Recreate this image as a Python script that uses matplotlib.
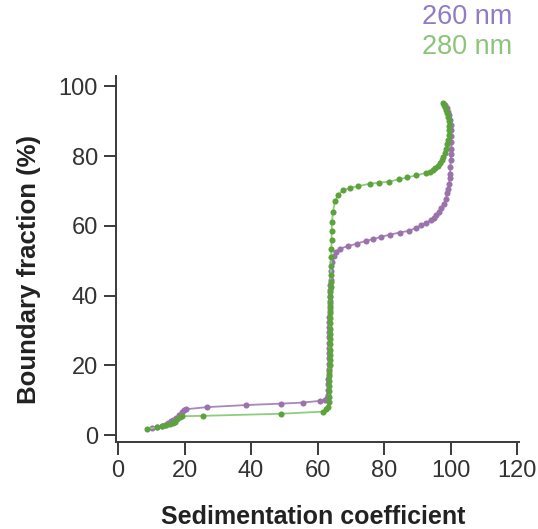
import matplotlib.pyplot as plt

plt.rcParams['font.family'] = ['Liberation Sans', 'DejaVu Sans']

# 260 nm trace (purple)
s_260 = [10.1, 11.6, 13.1, 14.2, 15.1, 16.0, 16.6, 17.5, 18.4, 19.1, 19.8, 20.4,
         26.8, 38.6, 49.0, 55.5, 60.7, 62.2, 62.8,
         63.0, 63.1, 63.2, 63.2, 63.3, 63.3, 63.3, 63.4, 63.4, 63.4, 63.4, 63.5,
         63.5, 63.5, 63.5, 63.5, 63.6, 63.6, 63.6, 63.6, 63.7, 63.8, 64.0,
         64.1, 64.3, 64.8, 65.6, 66.7, 69.2, 71.7, 74.5, 76.7, 78.9, 81.7, 84.7,
         87.5, 89.5, 91.2, 92.7, 94.2, 95.0, 95.7, 96.5, 97.2, 97.9, 98.5,
         99.0, 99.3, 99.5, 99.7, 99.8, 99.9, 100.0, 100.1, 100.2, 100.2,
         100.2, 100.2, 100.1, 99.9, 99.6, 99.2, 98.8, 98.3]
f_260 = [2.0, 2.3, 2.6, 3.0, 3.5, 3.9, 4.3, 5.0, 5.7, 6.7, 7.1, 7.4,
         8.0, 8.6, 9.0, 9.3, 9.8, 10.1, 10.6,
         11.5, 13.0, 14.5, 16.0, 17.5, 19.0, 20.5, 22.0, 23.5, 25.0, 26.5, 28.0,
         29.5, 31.0, 32.5, 34.0, 35.5, 37.0, 38.5, 40.0, 41.5, 43.0, 44.5,
         47.0, 49.5, 51.3, 52.5, 53.5, 54.2, 54.9, 55.7, 56.2, 56.8, 57.5, 58.1,
         58.6, 59.4, 60.2, 60.9, 61.8, 62.4, 63.0, 64.0, 65.0, 66.3, 67.8,
         69.3, 70.7, 72.1, 73.6, 75.0, 76.8, 78.8, 80.5, 82.2, 84.0,
         85.7, 87.4, 89.0, 90.4, 91.7, 92.8, 93.8, 94.7]

# 280 nm trace (green)
s_280 = [8.6, 11.6, 13.1, 14.4, 15.6, 16.4, 17.1, 17.8, 18.6, 19.3,
         25.6, 48.9, 61.5, 62.6, 63.1,
         63.3, 63.4, 63.4, 63.5, 63.5, 63.5, 63.5, 63.6, 63.6, 63.6, 63.6, 63.6,
         63.7, 63.7, 63.7, 63.7, 63.7, 63.8, 63.8, 63.8, 63.8, 63.8, 63.9, 63.9,
         64.0, 64.0, 64.1, 64.1, 64.2, 64.2, 64.3, 64.6, 65.2, 66.2, 67.7, 69.7,
         72.2, 75.7, 78.5, 81.5, 84.5, 86.9, 89.7, 92.5, 93.7, 94.7, 95.4, 96.1,
         96.7, 97.3, 97.8, 98.3, 98.7, 99.0, 99.3, 99.5, 99.6, 99.6, 99.5,
         99.3, 99.0, 98.7, 98.3, 97.9, 97.7]
f_280 = [1.7, 2.2, 2.5, 2.8, 3.2, 3.5, 3.8, 4.6, 5.2, 5.4,
         5.5, 6.1, 6.7, 7.4, 8.1,
         9.5, 11.0, 12.5, 14.0, 15.5, 17.0, 18.5, 20.0, 21.5, 23.0, 24.5, 26.0,
         27.5, 29.0, 30.5, 32.0, 33.5, 35.0, 36.5, 38.0, 39.5, 41.0, 42.5, 44.0,
         46.0, 48.5, 51.0, 53.5, 56.0, 58.5, 61.0, 64.0, 67.0, 69.0, 70.2, 70.9,
         71.4, 72.1, 72.4, 72.7, 73.4, 73.9, 74.5, 75.2, 75.6, 76.1, 76.6, 77.2,
         78.0, 78.9, 79.9, 81.0, 82.2, 83.4, 84.6, 86.0, 87.4, 88.8, 90.1,
         91.3, 92.4, 93.3, 94.1, 94.7, 95.2]

x_ticks = [0, 20, 40, 60, 80, 100, 120]
y_ticks = [0, 20, 40, 60, 80, 100]

purple = '#9a72ac'
purple_line = '#a887bb'
green = '#5ca33e'
green_line = '#8ccf7a'

fig = plt.figure(figsize=(5.38, 5.29), dpi=100)
ax = fig.add_axes([0.2156, 0.1645, 0.749, 0.6918])

ax.plot(s_260, f_260, '-', color=purple_line, lw=1.3, zorder=2)
ax.plot(s_260, f_260, 'o', color=purple, ms=4.4, mew=0, zorder=3)
ax.plot(s_280, f_280, '-', color=green_line, lw=1.3, zorder=4)
ax.plot(s_280, f_280, 'o', color=green, ms=4.4, mew=0, zorder=5)

ax.set_xlim(-0.6, 120.5)
ax.set_ylim(-2, 103)
ax.set_xticks(x_ticks)
ax.set_yticks(y_ticks)

for side in ['top', 'right']:
    ax.spines[side].set_visible(False)
for side in ['left', 'bottom']:
    ax.spines[side].set_color('#3a3a3a')
    ax.spines[side].set_linewidth(1.4)

ax.tick_params(axis='both', direction='out', length=9, width=1.4,
               color='#3a3a3a', labelsize=17, labelcolor='#333333', pad=4)

ax.set_xlabel('Sedimentation coefficient', fontsize=18, fontweight='bold', color='#222222')
ax.set_ylabel('Boundary fraction (%)', fontsize=18.5, fontweight='bold', color='#222222')
ax.xaxis.set_label_coords(0.489, -0.172)
ax.yaxis.set_label_coords(-0.186, 0.47)

fig.text(0.784, 0.968, '260 nm', fontsize=19.5, color='#8f7cc4', va='center', ha='left')
fig.text(0.784, 0.911, '280 nm', fontsize=19.5, color='#8cc47a', va='center', ha='left')

fig.savefig('out.png', dpi=100)
